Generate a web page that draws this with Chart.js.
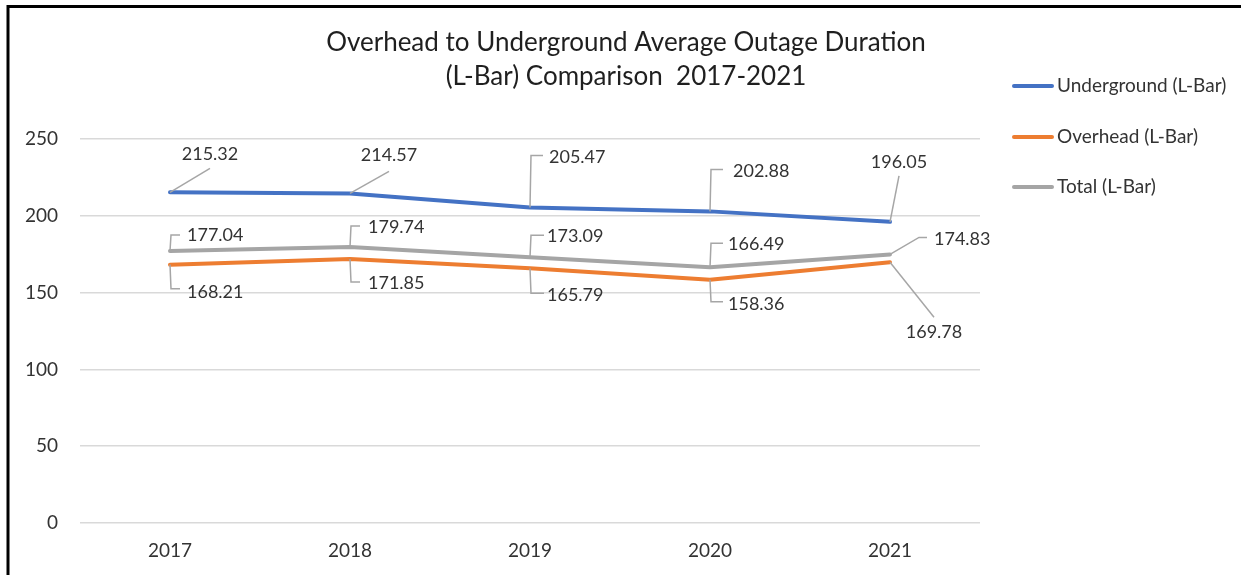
<!DOCTYPE html>
<html>
<head>
<meta charset="utf-8">
<script src="https://cdn.jsdelivr.net/npm/chart.js@4.4.1/dist/chart.umd.min.js"></script>
<style>
  html, body { margin: 0; padding: 0; background: #fff; }
  #wrap { width: 1241px; height: 575px; }
</style>
</head>
<body>
<div id="wrap"><canvas id="myChart" width="1241" height="575"></canvas></div>
<script>
const years = ['2017', '2018', '2019', '2020', '2021']
const underground = [215.32, 214.57, 205.47, 202.88, 196.05]
const overhead = [168.21, 171.85, 165.79, 158.36, 169.78]
const total = [177.04, 179.74, 173.09, 166.49, 174.83]
const seriesNames = ['Underground (L-Bar)', 'Overhead (L-Bar)', 'Total (L-Bar)']
const titleLines = ['Overhead to Underground Average Outage Duration', '(L-Bar) Comparison  2017-2021']
const yMin = 0
const yMax = 250
const yStep = 50

const colors = ['#4472C4', '#ED7D31', '#A5A5A5']
const FONT = 'Lato, "Open Sans", sans-serif'
const TEXT = '#333333'

// where each data label sits relative to its point (px), and how the leader line runs
const labelSpots = [
    [
        {kind: 'slant', lx: 40, ly: -24, tx: 40, ty: -38},
        {kind: 'slant', lx: 39, ly: -22, tx: 39, ty: -38},
        {kind: 'elbow', lx: 13, ly: -52, tx: 19, ty: -50},
        {kind: 'elbow', lx: 13, ly: -42, tx: 23, ty: -40},
        {kind: 'slant', lx: 9, ly: -46, tx: 9, ty: -60}
    ],
    [
        {kind: 'elbow', lx: 10, ly: 24, tx: 17, ty: 28},
        {kind: 'elbow', lx: 10, ly: 23, tx: 18, ty: 24},
        {kind: 'elbow', lx: 14, ly: 25, tx: 17, ty: 27},
        {kind: 'elbow', lx: 13, ly: 22, tx: 18, ty: 24},
        {kind: 'slant', lx: 44, ly: 55, tx: 44, ty: 70}
    ],
    [
        {kind: 'elbow', lx: 10, ly: -16, tx: 17, ty: -16},
        {kind: 'elbow', lx: 10, ly: -21, tx: 18, ty: -20},
        {kind: 'elbow', lx: 14, ly: -22, tx: 17, ty: -21},
        {kind: 'elbow', lx: 13, ly: -24, tx: 18, ty: -23},
        {kind: 'slantH', lx: 29, lx2: 37, ly: -17, tx: 44, ty: -15}
    ]
]

// frame, title and legend drawn straight on the canvas
const decorations = {
    id: 'decorations',
    afterDraw(chart) {
        const ctx = chart.ctx
        ctx.save()
        // black frame (left + top)
        ctx.strokeStyle = '#000'
        ctx.lineWidth = 3
        ctx.beginPath()
        ctx.moveTo(8, 575)
        ctx.lineTo(8, 6.5)
        ctx.lineTo(1241, 6.5)
        ctx.stroke()

        // title
        ctx.fillStyle = '#1f1f1f'
        ctx.font = '26px ' + FONT
        ctx.textAlign = 'center'
        ctx.textBaseline = 'middle'
        ctx.fillText(titleLines[0], 626, 43)
        ctx.fillText(titleLines[1], 626, 77)

        // legend
        ctx.font = '19px ' + FONT
        ctx.textAlign = 'left'
        ctx.lineCap = 'round'
        ctx.lineWidth = 4
        const legendY = [86, 137, 187]
        seriesNames.forEach((name, i) => {
            ctx.strokeStyle = colors[i]
            ctx.beginPath()
            ctx.moveTo(1014, legendY[i])
            ctx.lineTo(1052, legendY[i])
            ctx.stroke()
            ctx.fillStyle = TEXT
            ctx.fillText(name, 1057, legendY[i])
        })
        ctx.restore()
    }
}

// value labels with grey leader lines
const leaderLabels = {
    id: 'leaderLabels',
    afterDatasetsDraw(chart) {
        const ctx = chart.ctx
        ctx.save()
        ctx.font = '18px ' + FONT
        ctx.textBaseline = 'middle'
        ctx.strokeStyle = '#A6A6A6'
        ctx.lineWidth = 1.5
        chart.data.datasets.forEach((ds, i) => {
            const meta = chart.getDatasetMeta(i)
            meta.data.forEach((pt, j) => {
                const s = labelSpots[i][j]
                const x = pt.x
                const y = pt.y
                ctx.beginPath()
                ctx.moveTo(x, y)
                if (s.kind === 'elbow') {
                    ctx.lineTo(x + 1, y + s.ly)
                    ctx.lineTo(x + s.lx, y + s.ly)
                } else if (s.kind === 'slantH') {
                    ctx.lineTo(x + s.lx, y + s.ly)
                    ctx.lineTo(x + s.lx2, y + s.ly)
                } else {
                    ctx.lineTo(x + s.lx, y + s.ly)
                }
                ctx.stroke()
                ctx.fillStyle = TEXT
                ctx.textAlign = s.kind === 'slant' ? 'center' : 'left'
                ctx.fillText(ds.data[j].toFixed(2), x + s.tx, y + s.ty)
            })
        })
        ctx.restore()
    }
}

const data = {
    labels: years,
    datasets: [underground, overhead, total].map((values, i) => {
        return {
            label: seriesNames[i],
            data: values,
            borderColor: colors[i],
            backgroundColor: colors[i],
            borderWidth: 4,
            borderCapStyle: 'round',
            borderJoinStyle: 'round',
            pointRadius: 0,
            tension: 0
        }
    })
}

const config = {
    type: 'line',
    data: data,
    options: {
        responsive: false,
        animation: false,
        layout: {
            padding: {left: 0, top: 139, right: 261, bottom: 0}
        },
        plugins: {
            legend: {display: false},
            title: {display: false},
            tooltip: {enabled: false}
        },
        scales: {
            x: {
                offset: true,
                grid: {display: false, drawTicks: false},
                border: {display: false},
                ticks: {
                    color: TEXT,
                    padding: 16,
                    font: {family: FONT, size: 19}
                },
                afterFit: (scale) => { scale.height = 52 }
            },
            y: {
                min: yMin,
                max: yMax,
                grid: {color: '#D9D9D9', lineWidth: 1.5, drawTicks: false},
                border: {display: false},
                ticks: {
                    stepSize: yStep,
                    color: TEXT,
                    padding: 22,
                    font: {family: FONT, size: 19}
                },
                afterFit: (scale) => { scale.width = 80 }
            }
        }
    },
    plugins: [leaderLabels, decorations]
}

const myChart = new Chart(document.getElementById('myChart'), config)
</script>
</body>
</html>
